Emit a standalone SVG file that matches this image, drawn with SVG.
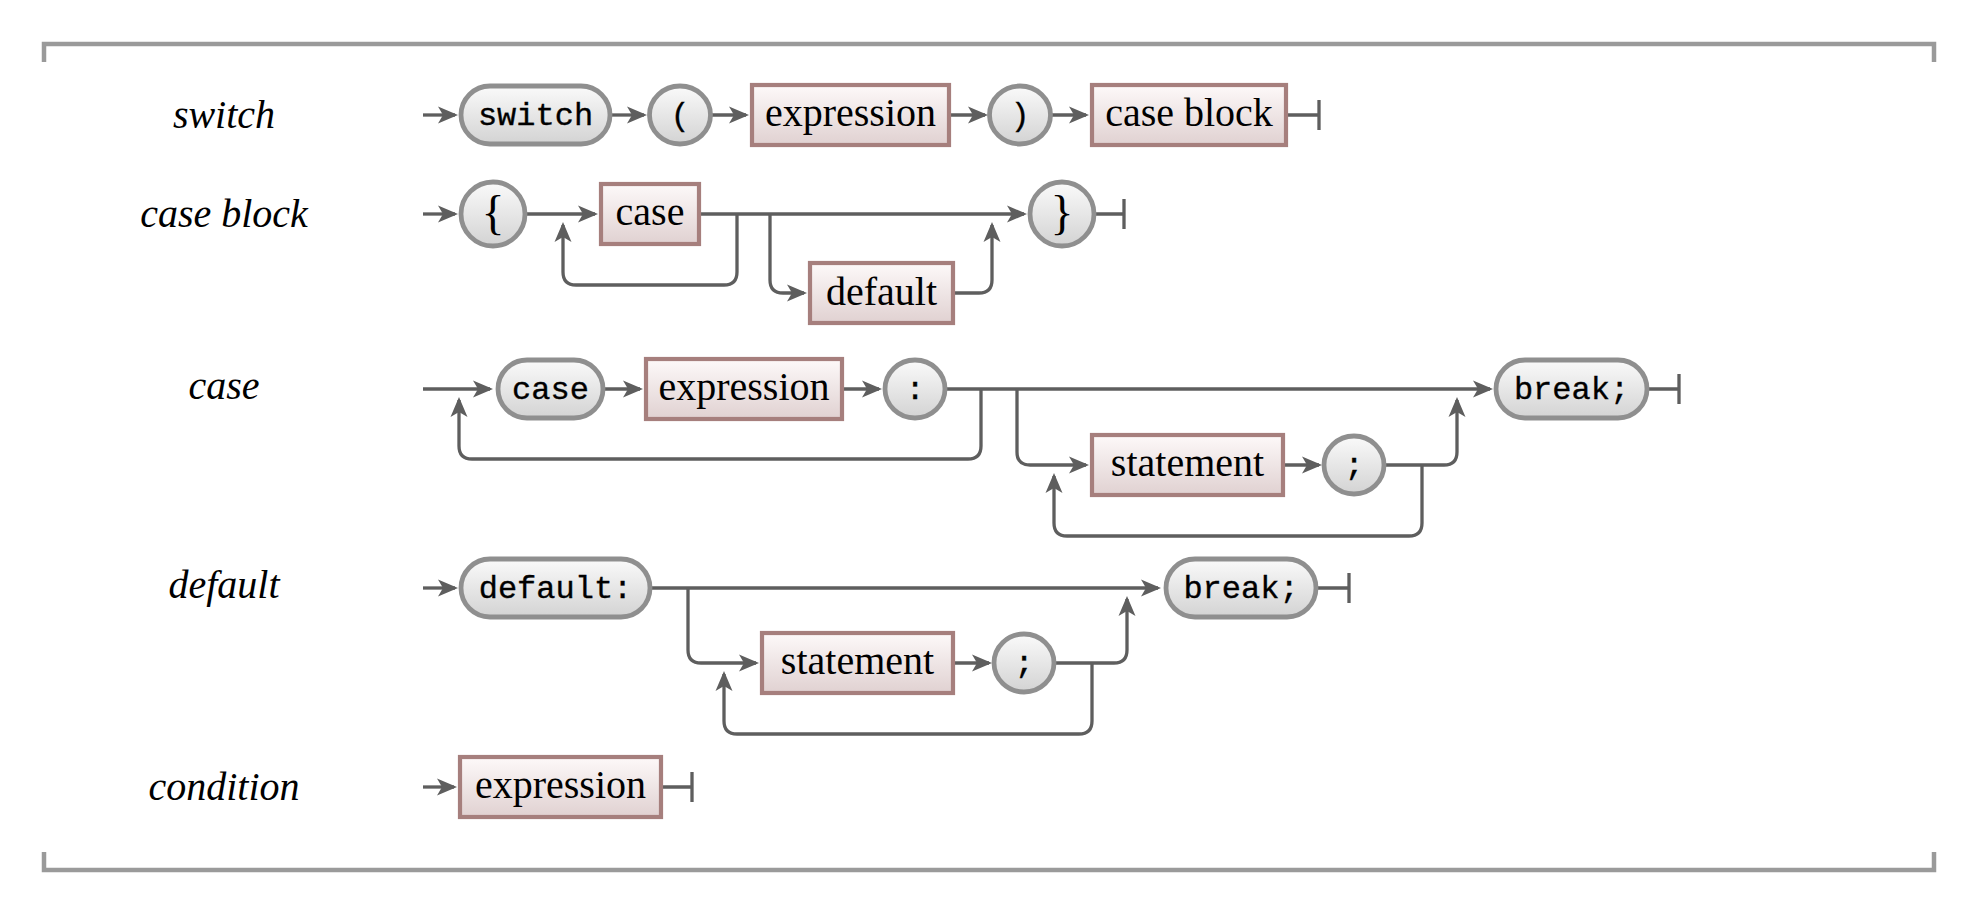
<svg xmlns="http://www.w3.org/2000/svg" width="1973" height="914" viewBox="0 0 1973 914">
<defs>
<linearGradient id="gPill" x1="0" y1="0" x2="0" y2="1"><stop offset="0" stop-color="#fafafa"/><stop offset="1" stop-color="#d3d3d3"/></linearGradient>
<linearGradient id="gRect" x1="0" y1="0" x2="0" y2="1"><stop offset="0" stop-color="#fdf9f9"/><stop offset="1" stop-color="#e0d1d1"/></linearGradient>
<marker id="arr" markerUnits="userSpaceOnUse" markerWidth="20" markerHeight="20" viewBox="0 0 20 20" refX="17" refY="10" orient="auto" overflow="visible">
<path d="M0,1.5 L20,10 L0,18.5 L5,10 z" fill="#5e5e5e"/>
</marker>
</defs>
<style>
.t{fill:url(#gPill);stroke:#8f8f8f;stroke-width:4.8}
.n{fill:url(#gRect);stroke:#a67f7d;stroke-width:4.2}
.c{fill:none;stroke:#5e5e5e;stroke-width:3.3}
.a{marker-end:url(#arr)}
.br{fill:none;stroke:#9a9a9a;stroke-width:4.5}
.lbl{font-family:"Liberation Serif","DejaVu Serif",serif;font-style:italic;font-size:40px;text-anchor:middle;fill:#000}
.rm{font-family:"Liberation Serif","DejaVu Serif",serif;font-size:40px;text-anchor:middle;fill:#000}
.br2{font-family:"Liberation Serif","DejaVu Serif",serif;font-size:48px;text-anchor:middle;fill:#000}
.tt{font-family:"Liberation Mono","DejaVu Sans Mono",monospace;font-size:32px;text-anchor:middle;fill:#000;stroke:#000;stroke-width:0.35}
</style>
<rect width="1973" height="914" fill="#fff"/>
<g id="frame">
<path class="br" d="M44,62 V44 H1934 V62"/>
<path class="br" d="M44,852 V870 H1934 V852"/>
</g>
<g id="labels">
<text class="lbl" x="224" y="128">switch</text>
<text class="lbl" x="224" y="227">case block</text>
<text class="lbl" x="224" y="399">case</text>
<text class="lbl" x="224" y="598">default</text>
<text class="lbl" x="224" y="800">condition</text>
</g>
<g id="connectors">
<path class="c a" d="M423,115 H455"/>
<path class="c a" d="M612,115 H644"/>
<path class="c a" d="M712,115 H746"/>
<path class="c a" d="M951,115 H985"/>
<path class="c a" d="M1052,115 H1086"/>
<path class="c" d="M1288,115 H1319 M1319,100 V130"/>
<path class="c a" d="M423,214 H455"/>
<path class="c a" d="M527,214 H595"/>
<path class="c a" d="M701,214 H1024"/>
<path class="c a" d="M737,214 V272 Q737,285 724,285 H576 Q563,285 563,272 V225"/>
<path class="c a" d="M770,214 V280 Q770,293 783,293 H804"/>
<path class="c a" d="M955,293 H979 Q992,293 992,280 V225"/>
<path class="c" d="M1096,214 H1124 M1124,199 V229"/>
<path class="c a" d="M423,389 H490"/>
<path class="c a" d="M605,389 H640"/>
<path class="c a" d="M844,389 H879"/>
<path class="c a" d="M947,389 H1490"/>
<path class="c a" d="M981,389 V446 Q981,459 968,459 H472 Q459,459 459,446 V400"/>
<path class="c a" d="M1017,389 V452 Q1017,465 1030,465 H1086"/>
<path class="c a" d="M1285,465 H1319"/>
<path class="c a" d="M1386,465 H1444 Q1457,465 1457,452 V400"/>
<path class="c a" d="M1422,465 V523 Q1422,536 1409,536 H1067 Q1054,536 1054,523 V476"/>
<path class="c" d="M1649,389 H1679 M1679,374 V404"/>
<path class="c a" d="M423,588 H455"/>
<path class="c a" d="M652,588 H1158"/>
<path class="c a" d="M688,588 V650 Q688,663 701,663 H756"/>
<path class="c a" d="M955,663 H989"/>
<path class="c a" d="M1056,663 H1114 Q1127,663 1127,650 V599"/>
<path class="c a" d="M1092,663 V721 Q1092,734 1079,734 H737 Q724,734 724,721 V674"/>
<path class="c" d="M1318,588 H1349 M1349,573 V603"/>
<path class="c a" d="M423,787 H454"/>
<path class="c" d="M663,787 H692 M692,772 V802"/>
</g>
<g id="n-switch"><rect class="t" x="461" y="86" width="149" height="58" rx="29"/><text class="tt" x="535.5" y="125">switch</text></g>
<g id="n-lparen"><ellipse class="t" cx="680" cy="115" rx="30.5" ry="29"/><text class="tt" x="680" y="125">(</text></g>
<g id="n-expr1"><rect class="n" x="752" y="85" width="197" height="60"/><text class="rm" x="850.5" y="126">expression</text></g>
<g id="n-rparen"><ellipse class="t" cx="1020" cy="115" rx="30.5" ry="29"/><text class="tt" x="1020" y="125">)</text></g>
<g id="n-caseblock"><rect class="n" x="1092" y="85" width="194" height="60"/><text class="rm" x="1189" y="126">case block</text></g>
<g id="n-lbrace"><circle class="t" cx="493" cy="214" r="32"/><text class="br2" x="493" y="229">{</text></g>
<g id="n-case-ref"><rect class="n" x="601" y="184" width="98" height="60"/><text class="rm" x="650" y="225">case</text></g>
<g id="n-rbrace"><circle class="t" cx="1062" cy="214" r="32"/><text class="br2" x="1062" y="229">}</text></g>
<g id="n-default-ref"><rect class="n" x="810" y="263" width="143" height="60"/><text class="rm" x="881.5" y="305">default</text></g>
<g id="n-case-kw"><rect class="t" x="498" y="360" width="105" height="58" rx="29"/><text class="tt" x="550.5" y="399">case</text></g>
<g id="n-expr2"><rect class="n" x="646" y="359" width="196" height="60"/><text class="rm" x="744" y="400">expression</text></g>
<g id="n-colon"><ellipse class="t" cx="915" cy="389" rx="30" ry="29"/><text class="tt" x="915" y="399">:</text></g>
<g id="n-break1"><rect class="t" x="1496" y="360" width="151" height="58" rx="29"/><text class="tt" x="1571.5" y="399">break;</text></g>
<g id="n-stmt1"><rect class="n" x="1092" y="435" width="191" height="60"/><text class="rm" x="1187.5" y="476">statement</text></g>
<g id="n-semi1"><ellipse class="t" cx="1354" cy="465" rx="30" ry="29"/><text class="tt" x="1354" y="475">;</text></g>
<g id="n-default-kw"><rect class="t" x="461" y="559" width="189" height="58" rx="29"/><text class="tt" x="555.5" y="598">default:</text></g>
<g id="n-break2"><rect class="t" x="1166" y="559" width="150" height="58" rx="29"/><text class="tt" x="1241" y="598">break;</text></g>
<g id="n-stmt2"><rect class="n" x="762" y="633" width="191" height="60"/><text class="rm" x="857.5" y="674">statement</text></g>
<g id="n-semi2"><ellipse class="t" cx="1024" cy="663" rx="30" ry="29"/><text class="tt" x="1024" y="673">;</text></g>
<g id="n-expr3"><rect class="n" x="460" y="757" width="201" height="60"/><text class="rm" x="560.5" y="798">expression</text></g>
</svg>
